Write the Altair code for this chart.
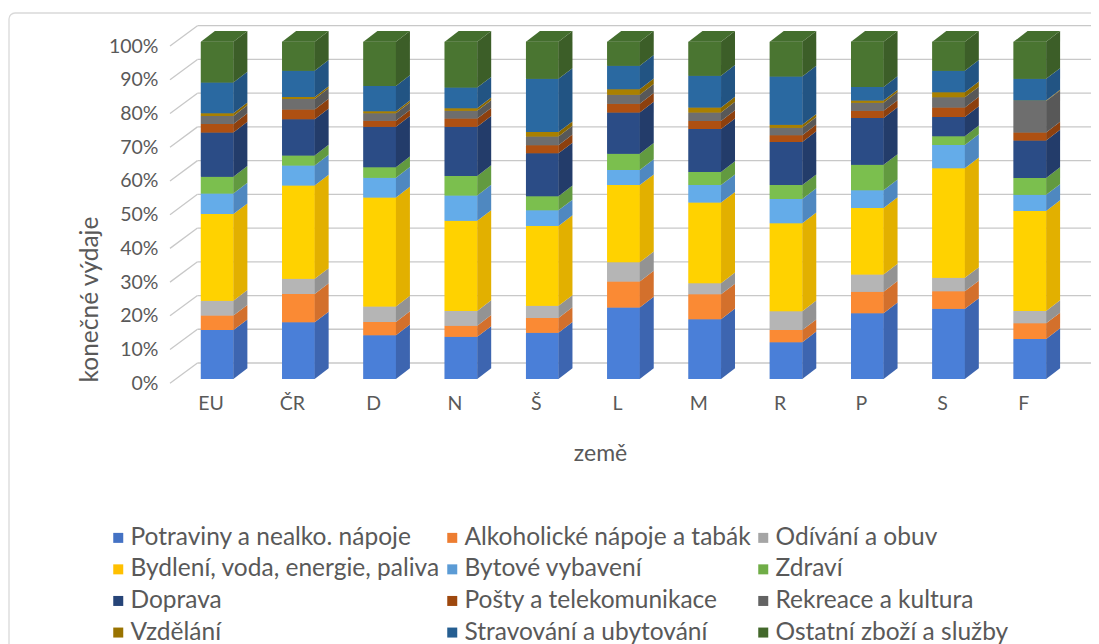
import altair as alt
import pandas as pd

# ---------------- data ----------------
countries = ["EU", "ČR", "D", "N", "Š", "L", "M", "R", "P", "S", "F"]
categories = [
    "Potraviny a nealko. nápoje",
    "Alkoholické nápoje a tabák",
    "Odívání a obuv",
    "Bydlení, voda, energie, paliva",
    "Bytové vybavení",
    "Zdraví",
    "Doprava",
    "Pošty a telekomunikace",
    "Rekreace a kultura",
    "Vzdělání",
    "Stravování a ubytování",
    "Ostatní zboží a služby",
]
potraviny = [14.5, 16.8, 13.0, 12.5, 13.7, 21.2, 17.7, 10.9, 19.5, 20.8, 11.9]
alkohol = [4.3, 8.4, 3.9, 3.3, 4.4, 7.7, 7.4, 3.6, 6.4, 5.2, 4.6]
odivani = [4.4, 4.5, 4.6, 4.4, 3.6, 5.7, 3.3, 5.6, 5.1, 4.0, 3.7]
bydleni = [25.7, 27.7, 32.3, 26.7, 23.7, 22.9, 23.9, 26.1, 19.7, 32.5, 29.6]
bytove = [6.1, 5.9, 5.9, 7.5, 4.6, 4.5, 5.2, 7.2, 5.3, 6.9, 4.8]
zdravi = [5.0, 3.0, 3.1, 5.8, 4.2, 4.8, 3.9, 4.1, 7.5, 2.6, 5.0]
doprava = [13.1, 10.7, 12.0, 14.6, 12.7, 12.2, 12.7, 12.8, 13.9, 5.7, 11.1]
posty = [2.5, 2.9, 1.8, 2.4, 2.4, 2.6, 2.4, 2.0, 2.1, 2.8, 2.4]
rekreace = [2.4, 3.1, 2.2, 2.3, 2.6, 2.7, 2.5, 2.2, 2.4, 3.0, 9.3]
vzdelani = [0.8, 0.6, 0.6, 0.8, 1.3, 1.6, 1.5, 0.9, 0.7, 1.5, 0.2]
stravovani = [9.1, 7.8, 7.5, 6.1, 15.8, 7.0, 9.4, 14.3, 4.0, 6.4, 6.4]
ostatni = [12.1, 8.6, 13.1, 13.6, 11.0, 7.1, 10.1, 10.3, 13.4, 8.6, 11.0]
series = [potraviny, alkohol, odivani, bydleni, bytove, zdravi,
          doprava, posty, rekreace, vzdelani, stravovani, ostatni]
y_ticks = [0, 0.1, 0.2, 0.3, 0.4, 0.5, 0.6, 0.7, 0.8, 0.9, 1.0]

# ---------------- styles ----------------
legend_colors = ["#4472C4", "#ED7D31", "#A5A5A5", "#FFC000", "#5B9BD5", "#70AD47",
                 "#264478", "#9E480E", "#636363", "#997300", "#255E91", "#43682B"]
front_colors = ["#4A7FD8", "#FA8A34", "#B5B5B5", "#FFD200", "#64ACE9", "#7BBF4E",
                "#2B4C86", "#AE5012", "#6E6E6E", "#A98000", "#2A69A1", "#4A7531"]
side_colors = ["#3D65B0", "#D3702C", "#939393", "#E2B000", "#4F88C0", "#629A40",
               "#233C6A", "#8D400E", "#585858", "#8A6800", "#225483", "#3C5E28"]
top_color = "#446E2E"
grid_color = "#C8C8C8"
text_color = "#595959"
FONT = "Lato"

# 3D geometry (in scale units)
FRONT_L, FRONT_R = -0.12, 0.28
FRONT_DY = 0.0127
SIDE_DX, SIDE_DY = 0.172, 0.0317
WALL_DX, WALL_DY = 0.338, 0.0602
X_MIN, X_MAX = -0.5, len(countries) - 0.5

# ---------------- derived tables ----------------
front_rows, side_rows, top_rows = [], [], []
for i, c in enumerate(countries):
    vals = [s[i] for s in series]
    tot = sum(vals)
    cum = 0.0
    for k, cat in enumerate(categories):
        lo = cum / tot
        cum += vals[k]
        hi = cum / tot
        seg = f"{i}-{k}"
        front_rows.append(dict(country=c, cat=cat, x1=i + FRONT_L, x2=i + FRONT_R,
                               y1=lo + FRONT_DY, y2=hi + FRONT_DY))
        for t in (0.0, 1.0):
            side_rows.append(dict(seg=seg, cat=cat, x=i + FRONT_R + t * SIDE_DX,
                                  ylo=lo + FRONT_DY + t * SIDE_DY,
                                  yhi=hi + FRONT_DY + t * SIDE_DY))
    T = cum / tot + FRONT_DY
    xl, xr = i + FRONT_L, i + FRONT_R
    for xx, lo_, hi_ in ((xl, T, T), (xl + SIDE_DX, T, T + SIDE_DY),
                         (xr, T, T + SIDE_DY), (xr + SIDE_DX, T + SIDE_DY, T + SIDE_DY)):
        top_rows.append(dict(country=c, x=xx, ylo=lo_, yhi=hi_))

front_df = pd.DataFrame(front_rows)
side_df = pd.DataFrame(side_rows)
top_df = pd.DataFrame(top_rows)
grid_df = pd.DataFrame(dict(t=y_ticks))
grid_df["xb1"] = X_MIN + WALL_DX
grid_df["xb2"] = X_MAX + WALL_DX
grid_df["yb"] = grid_df["t"] + WALL_DY
grid_df["xd1"] = X_MIN
grid_df["xd2"] = X_MIN + WALL_DX

# ---------------- scales / axes ----------------
xscale = alt.Scale(domain=[X_MIN, X_MAX], nice=False, zero=False)
yscale = alt.Scale(domain=[0, 1], nice=False, zero=False)
label_expr = "[" + ",".join(f"'{c}'" for c in countries) + "][datum.value]"
xaxis = alt.Axis(values=list(range(len(countries))), labelExpr=label_expr, title="země",
                 grid=False, domain=False, ticks=False, labelPadding=20,
                 labelBaseline="middle", labelFontSize=19.5, labelColor=text_color,
                 titleFontSize=23, titleColor=text_color, titleFontWeight="normal",
                 titleX=430, titleY=70, titleAlign="center", titleBaseline="middle")
yaxis = alt.Axis(values=y_ticks, format=".0%", title="konečné výdaje",
                 grid=False, domain=False, ticks=False, labelPadding=12,
                 labelFontSize=19.5, labelColor=text_color,
                 titleFontSize=24.5, titleColor=text_color, titleFontWeight="normal",
                 titleAngle=270, titleX=-80, titleY=253, titleAlign="center",
                 titleBaseline="middle")

frame = alt.Chart(pd.DataFrame({"a": [0]})).mark_rect(
    fillOpacity=0, stroke="#D9D9D9", strokeWidth=1.3, cornerRadius=6
).encode(x=alt.value(-161), x2=alt.value(935), y=alt.value(-33), y2=alt.value(700))

grid_back = alt.Chart(grid_df).mark_rule(color=grid_color, strokeWidth=1.3).encode(
    x=alt.X("xb1:Q", scale=xscale, axis=xaxis),
    x2="xb2:Q",
    y=alt.Y("yb:Q", scale=yscale, axis=yaxis),
)
grid_diag = alt.Chart(grid_df).mark_rule(color=grid_color, strokeWidth=1.3).encode(
    x=alt.X("xd1:Q", scale=xscale, axis=xaxis),
    x2="xd2:Q",
    y=alt.Y("t:Q", scale=yscale, axis=yaxis),
    y2="yb:Q",
)

front_legend = alt.Chart(front_df).mark_rect().encode(
    x=alt.X("x1:Q", scale=xscale, axis=xaxis),
    x2="x2:Q",
    y=alt.Y("y1:Q", scale=yscale, axis=yaxis),
    y2="y2:Q",
    color=alt.Color("cat:N", scale=alt.Scale(domain=categories, range=legend_colors),
                    legend=alt.Legend(title=None, orient="none", direction="horizontal",
                                      legendX=-64, legendY=479.5,
                                      columns=3, symbolType="square", symbolSize=100,
                                      symbolStrokeWidth=0, labelFontSize=24.5,
                                      labelColor=text_color, labelLimit=600,
                                      rowPadding=6.6, columnPadding=0, labelOffset=0,
                                      padding=0)),
)
front = alt.Chart(front_df).mark_rect().encode(
    x=alt.X("x1:Q", scale=xscale, axis=xaxis),
    x2="x2:Q",
    y=alt.Y("y1:Q", scale=yscale, axis=yaxis),
    y2="y2:Q",
    color=alt.Color("cat:N", scale=alt.Scale(domain=categories, range=front_colors),
                    legend=None),
)
side = alt.Chart(side_df).mark_area(orient="vertical").encode(
    x=alt.X("x:Q", scale=xscale, axis=xaxis),
    y=alt.Y("ylo:Q", scale=yscale, axis=yaxis, stack=None),
    y2="yhi:Q",
    detail="seg:N",
    color=alt.Color("cat:N", scale=alt.Scale(domain=categories, range=side_colors),
                    legend=None),
)
top = alt.Chart(top_df).mark_area(orient="vertical", color=top_color).encode(
    x=alt.X("x:Q", scale=xscale, axis=xaxis),
    y=alt.Y("ylo:Q", scale=yscale, axis=yaxis, stack=None),
    y2="yhi:Q",
    detail="country:N",
)

chart = alt.layer(frame, grid_back, grid_diag, front_legend, front, side, top).resolve_scale(
    color="independent"
).properties(
    width=894, height=337.3,
    autosize=alt.AutoSizeParams(type="none"),
    padding={"left": 162, "top": 38, "right": 27, "bottom": 260.7},
    background="white",
).configure(font=FONT).configure_view(stroke=None)

chart.save("out.html", embed_options={"renderer": "svg", "actions": False})
